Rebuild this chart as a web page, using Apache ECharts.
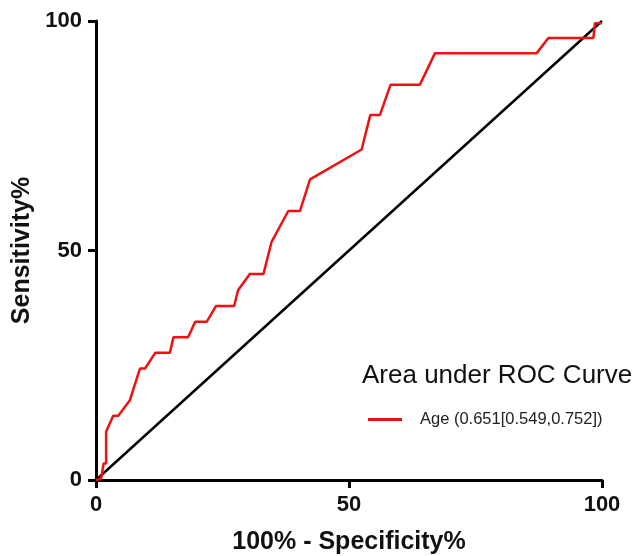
<!DOCTYPE html>
<html>
<head>
<meta charset="utf-8">
<script src="https://cdn.jsdelivr.net/npm/echarts@6/dist/echarts.min.js"></script>
<style>
  html, body { margin: 0; padding: 0; background: #fff; }
  #chart { width: 636px; height: 556px; }
</style>
</head>
<body>
<div id="chart"></div>
<script>
// ROC curve points (100% - specificity, sensitivity)
const rocX = [0, 1.0, 1.5, 2.0, 2.0, 3.4, 4.4, 6.7, 8.7, 9.7, 11.7, 14.6, 15.3, 18.2, 19.6, 21.9, 23.7, 27.3, 28.1, 30.4, 33.1, 34.7, 38.0, 40.3, 42.3, 52.5, 54.2, 56.1, 58.2, 64.0, 67.0, 87.1, 89.4, 98.3, 98.6, 100];
const rocY = [0, 0.2, 3.6, 3.6, 10.5, 14.0, 14.0, 17.4, 24.3, 24.3, 27.7, 27.7, 31.1, 31.1, 34.5, 34.5, 37.9, 37.9, 41.4, 44.9, 44.9, 51.9, 58.6, 58.6, 65.5, 72.0, 79.5, 79.5, 86.1, 86.1, 93.0, 93.0, 96.3, 96.3, 99.5, 99.5];
const refX = [0, 100];
const refY = [0, 100];
const axisTicks = [0, 50, 100];
const curveName = 'Age (0.651[0.549,0.752])';

const rocData = rocX.map((x, i) => [x, rocY[i]]);
const refData = refX.map((x, i) => [x, refY[i]]);

const font = 'Liberation Sans, Arial, sans-serif';

const axisCommon = {
  type: 'value',
  min: axisTicks[0],
  max: axisTicks[axisTicks.length - 1],
  interval: axisTicks[1] - axisTicks[0],
  splitLine: { show: false },
  axisLine: { show: true, lineStyle: { color: '#000', width: 3 } },
  axisTick: { show: true, length: 8, lineStyle: { color: '#000', width: 3 } },
  axisLabel: { color: '#111', fontSize: 22, fontWeight: 'bold', fontFamily: font, margin: 14 },
  nameLocation: 'middle',
  nameTextStyle: { color: '#111', fontSize: 25, fontWeight: 'bold', fontFamily: font }
};

const chart = echarts.init(document.getElementById('chart'));
chart.setOption({
  animation: false,
  title: {
    text: 'Area under ROC Curve',
    left: 357,
    top: 358,
    textStyle: { color: '#111', fontSize: 26, fontWeight: 'normal', fontFamily: font }
  },
  legend: {
    data: [curveName],
    left: 363,
    top: 406,
    icon: 'rect',
    itemWidth: 34,
    itemHeight: 3,
    textStyle: { color: '#222', fontSize: 16.5, fontFamily: font, padding: [0, 0, 0, 13] }
  },
  grid: { left: 96, right: 34, top: 21, bottom: 76, outerBoundsMode: 'none' },
  xAxis: Object.assign({}, axisCommon, { name: '100% - Specificity%', nameGap: 50 }),
  yAxis: Object.assign({}, axisCommon, { name: 'Sensitivity%', nameGap: 59 }),
  series: [
    {
      name: 'ref',
      type: 'line',
      data: refData,
      symbol: 'none',
      lineStyle: { color: '#000', width: 2.5 },
      z: 2
    },
    {
      name: curveName,
      type: 'line',
      data: rocData,
      symbol: 'none',
      color: '#f01010',
      lineStyle: { color: '#f01010', width: 2.5 },
      z: 3
    }
  ]
});
</script>
</body>
</html>
